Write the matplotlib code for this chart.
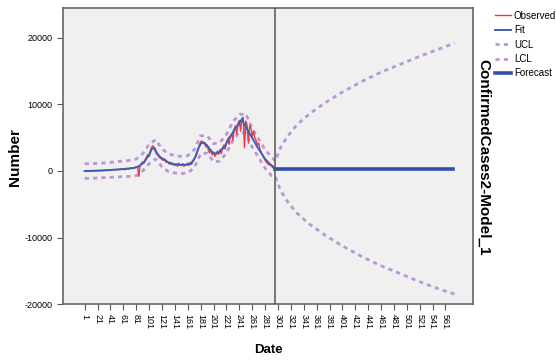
import numpy as np
import matplotlib.pyplot as plt

plt.rcParams['font.family'] = ['Liberation Sans', 'DejaVu Sans']
plt.rcParams['axes.unicode_minus'] = False

# observed series, every 2 days (days 1..297)
obs_vals = [
    0, 0, 0, 10, 20, 30, 20, 40, 50, 60, 60, 50, 80, 100, 90, 120, 110, 150, 130, 160,
    150, 180, 200, 170, 220, 250, 200, 260, 300, 280, 320, 150, 350, 380, 300, 420, 450, 400, 500, 550,
    600, 700, -800, 900, 1100, 1400, 1200, 1700, 2100, 2500, 2200, 3100, 3600, 3800, 3200, 2900, 2500, 2300, 2000, 1900,
    1700, 1600, 1800, 1300, 1400, 1200, 1000, 1300, 900, 1100, 800, 1000, 700, 1200, 900, 800, 1100, 700, 1000, 900,
    1200, 800, 1300, 1000, 1500, 1700, 2100, 2600, 3300, 3900, 4400, 4500, 4100, 4300, 3600, 3900, 3100, 2700, 3200, 2400,
    2800, 2200, 2600, 3000, 2500, 3200, 2600, 3500, 3900, 3300, 4200, 4800, 4000, 5200, 5600, 4600, 6200, 6800, 5500, 7200,
    7600, 6000, 7800, 8100, 3500, 7500, 7000, 4200, 6800, 6500, 5200, 6000, 5000, 4600, 3900, 4200, 3300, 2800, 2400, 2000,
    1600, 1300, 1100, 900, 1000, 700, 500, 400, 300,
]

# fitted series, every 4 days (days 1..297)
fit_vals = [
    0, 10, 20, 30, 40, 50, 60, 80, 100, 120,
    150, 180, 200, 230, 260, 300, 330, 360, 400, 450,
    550, 700, 1000, 1300, 1900, 2400, 3300, 3500, 2700, 2200,
    1900, 1700, 1400, 1200, 1100, 1000, 1000, 900, 950, 900,
    1000, 1100, 1500, 2200, 3300, 4100, 4300, 4000, 3600, 3000,
    2700, 2600, 2800, 3200, 3500, 4200, 5000, 5400, 6200, 6700,
    7200, 7800, 7000, 6300, 5600, 5000, 4300, 3600, 3000, 2400,
    1800, 1400, 1000, 700, 400,
]

# confidence limits (fit period + forecast period)
cl_days = [1, 11, 21, 31, 41, 51, 61, 71, 81, 91, 101, 111, 121, 131, 141, 151,
           161, 171, 181, 191, 201, 211, 221, 231, 241, 251, 261, 271, 281, 291, 297,
           300, 305, 315, 330, 350, 375, 400, 430, 460, 490, 520, 550, 575]
ucl_vals = [1100, 1100, 1150, 1200, 1300, 1400, 1500, 1600, 1800, 2600, 4000, 4700, 3300, 2600, 2300, 2200,
            2300, 3200, 5300, 5300, 4100, 4300, 5500, 7400, 8500, 8600, 6400, 4800, 3200, 2100, 1500,
            2300, 3500, 5100, 6900, 8600, 10300, 11800, 13400, 14800, 16000, 17200, 18300, 19200]
lcl_vals = [-1100, -1100, -1050, -1000, -950, -900, -850, -800, -700, 0, 1100, 1800, 600, -100, -300, -400,
            -300, 500, 2600, 2700, 1400, 1500, 2700, 4600, 5800, 5700, 3600, 2000, 400, -700, -800,
            -1700, -2900, -4500, -6300, -8000, -9700, -11200, -12800, -14200, -15400, -16600, -17700, -18500]

fc_days = [297, 573]
fc_vals = [300, 300]
forecast_start = 297

obs_days = np.arange(1, 298, 2)
fit_days = np.arange(1, 298, 4)

fig = plt.figure(figsize=(5.56, 3.62), dpi=100)
ax = fig.add_axes([0.113, 0.160, 0.738, 0.818])
ax.set_facecolor('#f0f0f0')

ucl_color = '#b996d6'
dots = (0, (1.5, 1.5))
ax.plot(cl_days, ucl_vals, color=ucl_color, lw=2.0, ls=dots, label='UCL', zorder=2)
ax.plot(cl_days, lcl_vals, color=ucl_color, lw=2.0, ls=dots, label='LCL', zorder=2)
ax.plot(obs_days, obs_vals, color='#ec3a44', lw=1.0, label='Observed', zorder=3)
ax.plot(fit_days, fit_vals, color='#3c5cb8', lw=1.4, label='Fit', zorder=4)
ax.plot(fc_days, fc_vals, color='#2f4fab', lw=2.6, label='Forecast', zorder=4)
ax.axvline(forecast_start, color='#555555', lw=1.1, zorder=5)

ax.set_xlim(-33, 604)
ax.set_ylim(-20000, 24500)
ax.set_xticks(np.arange(1, 562, 20))
ax.set_xticklabels([str(t) for t in range(1, 562, 20)], rotation=270, fontsize=6.5)
ax.set_yticks([-20000, -10000, 0, 10000, 20000])
ax.tick_params(axis='y', labelsize=6.5, length=4, color='#555555')
ax.tick_params(axis='x', length=4, color='#555555')
for s in ax.spines.values():
    s.set_color('#666666')
    s.set_linewidth(1.2)

ax.set_xlabel('Date', fontsize=9.5, fontweight='bold', labelpad=10)
fig.text(0.027, 0.566, 'Number', rotation=90, fontsize=11, fontweight='bold',
         ha='center', va='center')
fig.text(0.869, 0.566, 'ConfirmedCases2-Model_1', rotation=270, fontsize=11,
         fontweight='bold', ha='center', va='center')

h, l = ax.get_legend_handles_labels()
order = ['Observed', 'Fit', 'UCL', 'LCL', 'Forecast']
hs = [h[l.index(o)] for o in order]
fig.legend(hs, order, loc='upper left', bbox_to_anchor=(0.891, 0.97), frameon=False,
           fontsize=7, handlelength=1.6, handletextpad=0.3, labelspacing=0.45,
           borderaxespad=0, borderpad=0)

fig.savefig('out.png', dpi=100)
